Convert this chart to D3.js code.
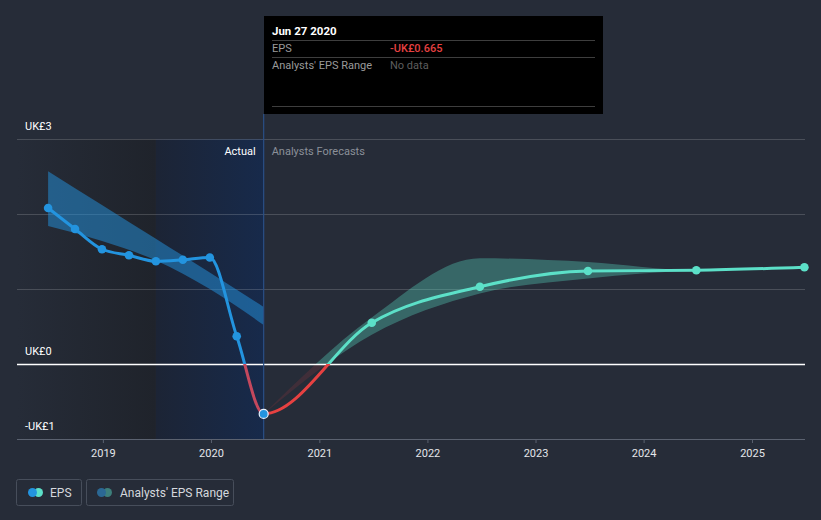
<!DOCTYPE html>
<html><head><meta charset="utf-8">
<script src="https://cdn.jsdelivr.net/npm/d3@7"></script>
<style>
body{margin:0;background:#262c38;}
svg{display:block;font-family:Roboto,"Open Sans",sans-serif;}
</style>
</head><body>
<svg id="chart" width="821" height="520"></svg>
<script>
// ---------- data ----------
const actualDates = ["2018-06-30","2018-09-29","2018-12-29","2019-03-30","2019-06-29","2019-09-28","2019-12-28","2020-03-28","2020-06-27"];
const actualEPS   = [2.08, 1.80, 1.53, 1.45, 1.37, 1.39, 1.42, 0.37, -0.665];

const pastRangeDates = ["2018-06-30","2018-12-29","2019-06-29","2019-12-28","2020-06-27"];
const pastRangeLow   = [1.84, 1.64, 1.38, 1.00, 0.52];
const pastRangeHigh  = [2.57, 2.12, 1.67, 1.22, 0.76];

const forecastDates = ["2021-06-27","2022-06-27","2023-06-27","2024-06-27","2025-06-27"];
const forecastEPS   = [0.55, 1.03, 1.24, 1.25, 1.29];
const forecastLow   = [0.39, 0.94, 1.14, 1.25, 1.29];
const forecastHigh  = [0.62, 1.41, 1.36, 1.25, 1.29];

const yearTicks = [2019, 2020, 2021, 2022, 2023, 2024, 2025];
const yGrid = [3, 2, 1];
const yLabelValues = [3, 0, -1];
const yLabelText = ["UK£3", "UK£0", "-UK£1"];

const highlightStart = "2019-06-29";
const tooltipDate = "Jun 27 2020";
const tooltipEPS = "-UK£0.665";

(function () {
// ---------- setup ----------
const parse = d3.timeParse("%Y-%m-%d");
const svg = d3.select("#chart");
const W = 821, H = 520;
const pL = 17, pR = 805, pT = 139, pB = 439;

const x = d3.scaleTime().domain([parse("2018-03-17"), parse("2025-06-29")]).range([pL, pR]);
const y = d3.scaleLinear().domain([-1, 3]).range([pB, pT]);

const actual = actualDates.map((d, i) => ({date: parse(d), v: actualEPS[i]}));
const lastActual = actual[actual.length - 1];
const forecast = forecastDates.map((d, i) => ({date: parse(d), v: forecastEPS[i]}));
const allLine = actual.concat(forecast);
const pastBand = pastRangeDates.map((d, i) => ({date: parse(d), lo: pastRangeLow[i], hi: pastRangeHigh[i]}));
const fcBand = [{date: lastActual.date, lo: lastActual.v, hi: lastActual.v}]
  .concat(forecastDates.map((d, i) => ({date: parse(d), lo: forecastLow[i], hi: forecastHigh[i]})));

const xLast = x(lastActual.date);
const xHl = x(parse(highlightStart));
const y0 = y(0);

svg.append("rect").attr("width", W).attr("height", H).attr("fill", "#262c38");

const defs = svg.append("defs");
const g1 = defs.append("linearGradient").attr("id", "gPast").attr("x1", 0).attr("x2", 1).attr("y1", 0).attr("y2", 0);
g1.append("stop").attr("offset", "0%").attr("stop-color", "#262c38");
g1.append("stop").attr("offset", "100%").attr("stop-color", "#1f232b");
const g2 = defs.append("linearGradient").attr("id", "gHl").attr("x1", 0).attr("x2", 1).attr("y1", 0).attr("y2", 0);
g2.append("stop").attr("offset", "0%").attr("stop-color", "#1c2435");
g2.append("stop").attr("offset", "100%").attr("stop-color", "#172a4b");

function clip(id, x0, x1, yA, yB) {
  defs.append("clipPath").attr("id", id).append("rect")
    .attr("x", x0).attr("y", yA).attr("width", x1 - x0).attr("height", yB - yA);
}
clip("cAP", 0, xLast, 0, y0);
clip("cAN", 0, xLast, y0, H);
clip("cFP", xLast, W, 0, y0);
clip("cFN", xLast, W, y0, H);

// shaded regions
svg.append("rect").attr("x", pL).attr("y", pT).attr("width", xHl - pL).attr("height", pB - pT).attr("fill", "url(#gPast)");
svg.append("rect").attr("x", xHl).attr("y", pT).attr("width", xLast - xHl).attr("height", pB - pT).attr("fill", "url(#gHl)");

// gridlines
svg.append("g").selectAll("line").data(yGrid).join("line")
  .attr("x1", pL).attr("x2", pR).attr("y1", d => Math.round(y(d)) + 0.5).attr("y2", d => Math.round(y(d)) + 0.5)
  .attr("stroke", "#ffffff").attr("stroke-opacity", 0.17).attr("stroke-width", 1);

// bands
const area = d3.area().x(d => x(d.date)).y0(d => y(d.lo)).y1(d => y(d.hi)).curve(d3.curveMonotoneX);
svg.append("path").attr("d", area(pastBand)).attr("fill", "#2394df").attr("fill-opacity", 0.5);
svg.append("path").attr("d", area(fcBand)).attr("fill", "#5ce0c8").attr("fill-opacity", 0.33).attr("clip-path", "url(#cFP)");
svg.append("path").attr("d", area(fcBand)).attr("fill", "#e64141").attr("fill-opacity", 0.14).attr("clip-path", "url(#cFN)");

// zero line
const yz = Math.round(y0) + 0.5;
svg.append("line").attr("x1", pL).attr("x2", pR).attr("y1", yz).attr("y2", yz)
  .attr("stroke", "#ffffff").attr("stroke-width", 1.3);

// x axis
const xAxis = d3.axisBottom(x).tickValues(yearTicks.map(yr => new Date(yr, 0, 1)))
  .tickFormat(d3.timeFormat("%Y")).tickSize(4).tickPadding(6);
const ax = svg.append("g").attr("transform", `translate(0,${pB})`).call(xAxis);
ax.select(".domain").attr("stroke", "#5b6270").attr("stroke-width", 1.2).attr("d", `M${pL},0.5H${pR}`);
ax.selectAll(".tick line").attr("stroke", "#5b6270");
ax.selectAll(".tick text").attr("fill", "#e4e6ea").attr("font-size", 11).attr("font-family", "Roboto,sans-serif");

// lines
const line = d3.line().x(d => x(d.date)).y(d => y(d.v)).curve(d3.curveMonotoneX);
const segs = [["cAP", "#2394df"], ["cAN", "#c4485d"], ["cFP", "#5ce0c8"], ["cFN", "#e64141"]];
segs.forEach(([c, col]) => {
  svg.append("path").attr("d", line(allLine)).attr("fill", "none").attr("stroke", col)
    .attr("stroke-width", 3).attr("clip-path", `url(#${c})`);
});

// vertical marker line
svg.append("line").attr("x1", xLast).attr("x2", xLast).attr("y1", 114).attr("y2", pB)
  .attr("stroke", "#2a4f86").attr("stroke-width", 1.2);

// points
svg.append("g").selectAll("circle").data(actual.slice(0, -1)).join("circle")
  .attr("cx", d => x(d.date)).attr("cy", d => y(d.v)).attr("r", 4.3).attr("fill", "#2394df");
svg.append("g").selectAll("circle").data(forecast).join("circle")
  .attr("cx", d => x(d.date)).attr("cy", d => y(d.v)).attr("r", 4.3).attr("fill", "#5ce0c8");
svg.append("circle").attr("cx", xLast).attr("cy", y(lastActual.v)).attr("r", 4.5)
  .attr("fill", "#2394df").attr("stroke", "#e8f2ff").attr("stroke-width", 1.2);

// y labels
svg.append("g").selectAll("text").data(yLabelValues).join("text")
  .attr("x", 25).attr("y", d => y(d) - 9).attr("fill", "#ffffff").attr("font-size", 11)
  .text((d, i) => yLabelText[i]);

// section labels
svg.append("text").attr("x", xLast - 8).attr("y", 155).attr("text-anchor", "end")
  .attr("fill", "#ffffff").attr("font-size", 11).text("Actual");
svg.append("text").attr("x", xLast + 8).attr("y", 155)
  .attr("fill", "#8b9099").attr("font-size", 11).text("Analysts Forecasts");

// tooltip
const tt = svg.append("g");
tt.append("rect").attr("x", 264).attr("y", 16).attr("width", 339).attr("height", 98).attr("fill", "#000000");
tt.append("text").attr("x", 272).attr("y", 35).attr("fill", "#ffffff").attr("font-size", 11.5).attr("font-weight", "bold").text(tooltipDate);
[40.5, 57.5, 106.5].forEach(yy => tt.append("line").attr("x1", 272).attr("x2", 595).attr("y1", yy).attr("y2", yy)
  .attr("stroke", "#3e3e3e").attr("stroke-width", 1));
tt.append("text").attr("x", 272).attr("y", 52).attr("fill", "#9a9a9a").attr("font-size", 11).text("EPS");
tt.append("text").attr("x", 390).attr("y", 52).attr("fill", "#e64141").attr("font-size", 11).attr("font-weight", 500).text(tooltipEPS);
tt.append("text").attr("x", 272).attr("y", 69).attr("fill", "#9a9a9a").attr("font-size", 11).text("Analysts' EPS Range");
tt.append("text").attr("x", 390).attr("y", 69).attr("fill", "#5e5e5e").attr("font-size", 11).text("No data");

// legend
const lg = svg.append("g");
lg.append("rect").attr("x", 16.5).attr("y", 479.5).attr("width", 65).attr("height", 26).attr("rx", 2)
  .attr("fill", "none").attr("stroke", "#474e5b");
lg.append("rect").attr("x", 86.5).attr("y", 479.5).attr("width", 147).attr("height", 26).attr("rx", 2)
  .attr("fill", "none").attr("stroke", "#474e5b");
lg.append("circle").attr("cx", 38.5).attr("cy", 492.5).attr("r", 4.5).attr("fill", "#5ce0c8");
lg.append("circle").attr("cx", 32.5).attr("cy", 492.5).attr("r", 4.5).attr("fill", "#2394df");
lg.append("circle").attr("cx", 107.5).attr("cy", 492.5).attr("r", 4.5).attr("fill", "#3d7f7b");
lg.append("circle").attr("cx", 101.5).attr("cy", 492.5).attr("r", 4.5).attr("fill", "#2b6894");
lg.append("text").attr("x", 50).attr("y", 496.5).attr("fill", "#d5d8dd").attr("font-size", 12).text("EPS");
lg.append("text").attr("x", 120).attr("y", 496.5).attr("fill", "#d5d8dd").attr("font-size", 12).text("Analysts' EPS Range");
})();
</script>
</body></html>
